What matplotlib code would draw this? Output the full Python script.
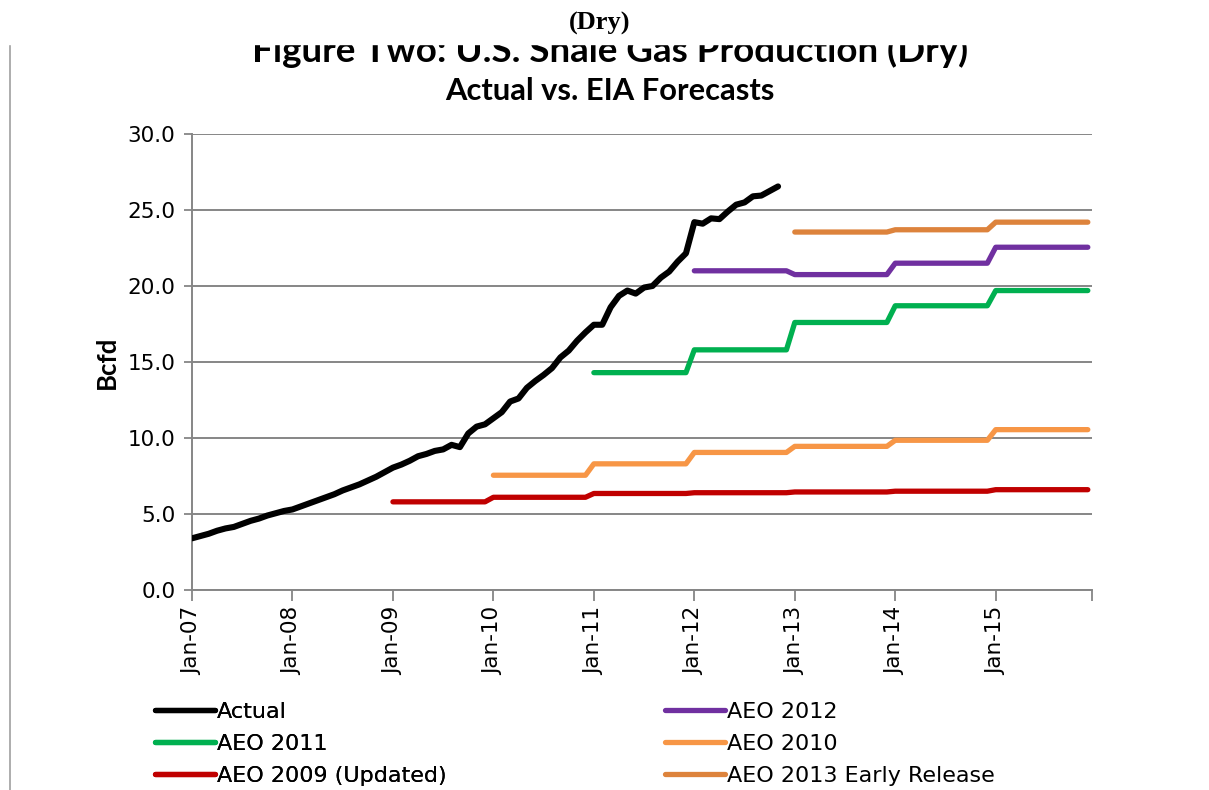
import matplotlib

matplotlib.use("Agg")
import matplotlib.pyplot as plt  # noqa: E402
import numpy as np  # noqa: E402
from matplotlib.lines import Line2D  # noqa: E402
from matplotlib.patches import Rectangle  # noqa: E402

# Monthly axis Jan-07 .. Dec-15 (108 months); labels on each January
YEARS = ["07", "08", "09", "10", "11", "12", "13", "14", "15"]
TICK_LABELS = [f"Jan-{y}" for y in YEARS]

# Actual shale gas production, Jan-07 .. Nov-12 (Bcfd)
ACTUAL = [
    3.4, 3.55, 3.7, 3.9, 4.05, 4.15, 4.35, 4.55, 4.7, 4.9, 5.05, 5.2,
    5.3, 5.5, 5.7, 5.9, 6.1, 6.3, 6.55, 6.75, 6.95, 7.2, 7.45, 7.75,
    8.05, 8.25, 8.5, 8.8, 8.95, 9.15, 9.25, 9.55, 9.4, 10.3, 10.75, 10.9,
    11.3, 11.7, 12.4, 12.6, 13.3, 13.75, 14.15, 14.6, 15.3, 15.75, 16.4, 16.95,
    17.45, 17.45, 18.6, 19.35, 19.7, 19.5, 19.9, 20.0, 20.55, 20.95, 21.6, 22.15,
    24.2, 24.1, 24.45, 24.4, 24.9, 25.35, 25.5, 25.9, 25.95, 26.25, 26.55,
]

# EIA forecasts: one value per year, from the first forecast year to 2015
AEO2009_START, AEO2009 = 2009, [5.8, 6.1, 6.35, 6.4, 6.45, 6.5, 6.6]
AEO2010_START, AEO2010 = 2010, [7.55, 8.3, 9.05, 9.45, 9.85, 10.55]
AEO2011_START, AEO2011 = 2011, [14.3, 15.8, 17.6, 18.7, 19.7]
AEO2012_START, AEO2012 = 2012, [21.0, 20.75, 21.5, 22.55]
AEO2013_START, AEO2013 = 2013, [23.55, 23.7, 24.2]

COLORS = {
    "Actual": "#000000",
    "AEO 2012": "#7030A0",
    "AEO 2011": "#00B050",
    "AEO 2010": "#F79646",
    "AEO 2009 (Updated)": "#C00000",
    "AEO 2013 Early Release": "#DD833C",
}

TITLE_FONT = ["Lato", "DejaVu Sans"]

plt.rcParams.update({
    "font.family": "DejaVu Sans",
    "font.size": 15.5,
})


def _monthly(start_year, annual):
    x0 = (start_year - 2007) * 12
    y = np.repeat(np.asarray(annual, dtype=float), 12)
    return np.arange(x0, x0 + len(y)), y


fig = plt.figure(figsize=(12.09, 7.90), dpi=100)
ax = fig.add_axes([192 / 1209, 1 - 590 / 790, 900 / 1209, 456 / 790])

series = [
    ("AEO 2009 (Updated)", _monthly(AEO2009_START, AEO2009)),
    ("AEO 2010", _monthly(AEO2010_START, AEO2010)),
    ("AEO 2011", _monthly(AEO2011_START, AEO2011)),
    ("AEO 2012", _monthly(AEO2012_START, AEO2012)),
    ("AEO 2013 Early Release", _monthly(AEO2013_START, AEO2013)),
]
for name, (x, y) in series:
    ax.plot(x, y, color=COLORS[name], lw=3.8, solid_capstyle="round",
            solid_joinstyle="round", zorder=3)
ax.plot(np.arange(len(ACTUAL)), ACTUAL, color=COLORS["Actual"], lw=4.4,
        solid_capstyle="round", solid_joinstyle="round", zorder=4)

ax.set_xlim(0, 107.5)
ax.set_ylim(0, 30)
ax.set_yticks(np.arange(0, 31, 5))
ax.set_yticklabels([f"{v:.1f}" for v in np.arange(0, 31, 5)])
ax.set_xticks(np.arange(0, 108, 12))
ax.set_xticklabels(TICK_LABELS, rotation=90)
ax.set_xticks([107.5], minor=True)
ax.tick_params(axis="x", which="both", length=8, width=1.3, color="#868686",
               pad=4)
ax.tick_params(axis="y", length=6, width=1.3, color="#868686", pad=6)
ax.grid(axis="y", color="#868686", lw=1.4)
ax.set_axisbelow(True)
for side in ("top", "right"):
    ax.spines[side].set_visible(False)
for side in ("left", "bottom"):
    ax.spines[side].set_color("#868686")
    ax.spines[side].set_linewidth(1.4)

ax.set_ylabel("Bcfd", family=TITLE_FONT, fontweight="bold", fontsize=18.5,
              labelpad=6)

# Title block: the first line is cut off at its top, with "(Dry)" above it
clip_top = 1 - 44 / 790
fig.text(0.5045, 1 - 62 / 790, "Figure Two: U.S. Shale Gas Production (Dry)",
         family=TITLE_FONT, fontweight="bold", fontsize=26.5, ha="center",
         va="baseline")
fig.patches.append(Rectangle((0, clip_top), 1, 1 - clip_top,
                             transform=fig.transFigure, color="white",
                             zorder=5))
fig.text(600 / 1209, 1 - 23 / 790, "(Dry)",
         family=["Liberation Serif", "DejaVu Serif"],
         fontweight="bold", fontsize=19, ha="center", va="center", zorder=6)
fig.text(0.5045, 1 - 100 / 790, "Actual vs. EIA Forecasts", family=TITLE_FONT,
         fontweight="bold", fontsize=22.2, ha="center", va="baseline")

# Thin rule at the left edge
fig.add_artist(Line2D([10 / 1209, 10 / 1209], [0, 1 - 45 / 790],
                      transform=fig.transFigure, color="#a0a0a0", lw=1.2))


def _legend(names, x_px):
    handles = [Line2D([0], [0], color=COLORS[n], lw=3.8, solid_capstyle="round")
               for n in names]
    leg = fig.legend(handles, names, loc="upper left",
                     bbox_to_anchor=(x_px / 1209, 1 - 702 / 790),
                     frameon=False, fontsize=16, handlelength=2.7,
                     handletextpad=0.1, labelspacing=0.54, borderpad=0,
                     borderaxespad=0)
    return leg


fig.add_artist(_legend(["Actual", "AEO 2011", "AEO 2009 (Updated)"], 155))
_legend(["AEO 2012", "AEO 2010", "AEO 2013 Early Release"], 665)

fig.savefig("out.png", dpi=100)
